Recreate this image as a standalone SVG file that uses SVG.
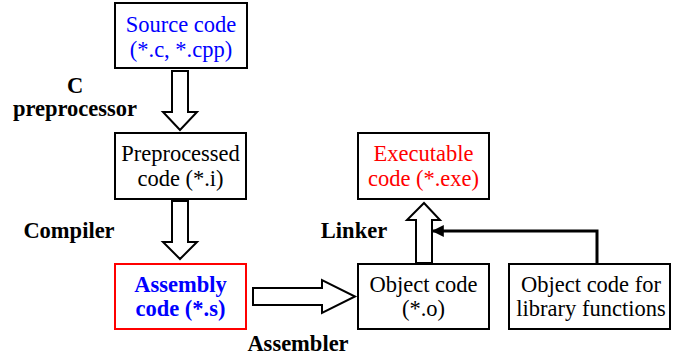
<svg xmlns="http://www.w3.org/2000/svg" width="673" height="356" viewBox="0 0 673 356">
<style>
.box{fill:#fff;stroke:#000;stroke-width:2}
.t{font-family:'Times New Roman',Times,'Liberation Serif',serif;font-size:22.5px;text-anchor:middle}
.b{font-weight:bold}
.lbl{font-family:'Times New Roman',Times,'Liberation Serif',serif;font-size:22.5px;font-weight:bold;text-anchor:middle;fill:#000}
.fat{fill:#fff;stroke:#000;stroke-width:2;stroke-linejoin:miter}
</style>
<defs>
<marker id="ah" viewBox="0 0 10 10" refX="9" refY="5" markerWidth="5" markerHeight="4" orient="auto" markerUnits="strokeWidth">
<path d="M0,0 L10,5 L0,10 z" fill="#000"/>
</marker>
</defs>
<rect width="673" height="356" fill="#fff"/>
<g id="connectors">
<polygon class="fat" points="172,71 188,71 188,112 197,112 180,130 163,112 172,112"/>
<polygon class="fat" points="172,201 188,201 188,242 197,242 180,259 163,242 172,242"/>
<polygon class="fat" points="253,288 322,288 322,280 355,296.5 322,313 322,305 253,305"/>
<polygon class="fat" points="416,263 432,263 432,220 440,220 424,203 407,220 416,220"/>
<polyline points="597,264 597,231 433,231" fill="none" stroke="#000" stroke-width="3" marker-end="url(#ah)"/>
</g>
<g id="lbl-c"><text class="lbl" x="75" y="93">C</text><text class="lbl" x="75" y="116">preprocessor</text></g>
<g id="lbl-compiler"><text class="lbl" x="69" y="238">Compiler</text></g>
<g id="lbl-assembler"><text class="lbl" x="298" y="351">Assembler</text></g>
<g id="lbl-linker"><text class="lbl" x="354" y="238">Linker</text></g>
<g id="source">
<rect class="box" x="115" y="3" width="132" height="65"/>
<text class="t" x="181" y="32" fill="#0000ff">Source code</text>
<text class="t" x="181" y="57" fill="#0000ff">(*.c, *.cpp)</text>
</g>
<g id="preprocessed">
<rect class="box" x="115" y="133" width="131" height="66"/>
<text class="t" x="180.5" y="161">Preprocessed</text>
<text class="t" x="180.5" y="186">code (*.i)</text>
</g>
<g id="assembly">
<rect x="115" y="264" width="131" height="65" fill="#fff" stroke="#ff0000" stroke-width="2"/>
<text class="t b" x="180.5" y="292" fill="#0000ff">Assembly</text>
<text class="t b" x="180.5" y="316" fill="#0000ff">code (*.s)</text>
</g>
<g id="executable">
<rect class="box" x="358" y="133" width="131" height="66"/>
<text class="t" x="423.5" y="161" fill="#ff0000">Executable</text>
<text class="t" x="423.5" y="186" fill="#ff0000">code (*.exe)</text>
</g>
<g id="object">
<rect class="box" x="358" y="264" width="131" height="65"/>
<text class="t" x="423.5" y="292">Object code</text>
<text class="t" x="423.5" y="316">(*.o)</text>
</g>
<g id="library">
<rect class="box" x="509" y="264" width="161" height="65"/>
<text class="t" x="591" y="292">Object code for</text>
<text class="t" x="591" y="316">library functions</text>
</g>
</svg>
